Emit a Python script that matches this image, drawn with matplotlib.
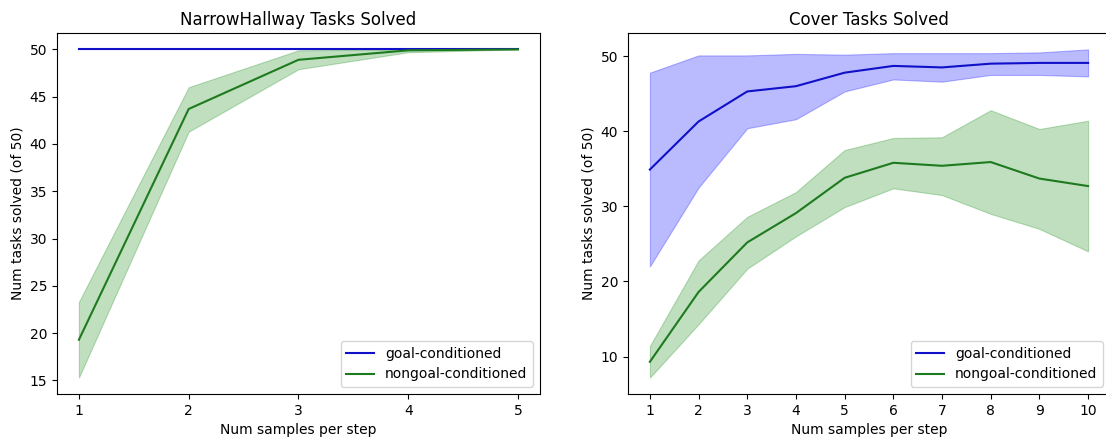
import matplotlib
matplotlib.use("Agg")
import matplotlib.pyplot as plt
import numpy as np

# NarrowHallway
x_nh = [1, 2, 3, 4, 5]
nh_goal_mean = [50, 50, 50, 50, 50]
nh_goal_low = [50, 50, 50, 50, 50]
nh_goal_high = [50, 50, 50, 50, 50]
nh_ng_mean = [19.3, 43.7, 48.9, 49.9, 50.0]
nh_ng_low = [15.3, 41.3, 47.9, 49.7, 50.0]
nh_ng_high = [23.3, 46.0, 49.9, 50.0, 50.0]

# Cover
x_cv = [1, 2, 3, 4, 5, 6, 7, 8, 9, 10]
cv_goal_mean = [34.9, 41.3, 45.3, 46.0, 47.8, 48.7, 48.5, 49.0, 49.1, 49.1]
cv_goal_low = [22.0, 32.5, 40.4, 41.6, 45.3, 46.9, 46.6, 47.5, 47.5, 47.3]
cv_goal_high = [47.8, 50.1, 50.1, 50.3, 50.2, 50.4, 50.4, 50.4, 50.5, 50.9]
cv_ng_mean = [9.3, 18.6, 25.2, 29.1, 33.8, 35.8, 35.4, 35.9, 33.7, 32.7]
cv_ng_low = [7.2, 14.3, 21.7, 26.0, 29.9, 32.4, 31.5, 29.0, 27.0, 24.0]
cv_ng_high = [11.4, 22.8, 28.6, 31.9, 37.5, 39.1, 39.2, 42.8, 40.3, 41.4]

titles = ["NarrowHallway Tasks Solved", "Cover Tasks Solved"]
labels = ["goal-conditioned", "nongoal-conditioned"]

fig = plt.figure(figsize=(11.06, 4.38), dpi=100)
ax1 = fig.add_axes([0.0515, 0.1005, 0.4367, 0.8242])
ax2 = fig.add_axes([0.5678, 0.1005, 0.4358, 0.8242])

blue = "#1010c8"
green = "#1e7a1e"

def draw(ax, x, gm, gl, gh, nm, nl, nh, title):
    ax.plot(x, gm, color=blue, lw=1.5, label=labels[0])
    ax.fill_between(x, gl, gh, color="blue", alpha=0.27, lw=0.8)
    ax.plot(x, nm, color=green, lw=1.5, label=labels[1])
    ax.fill_between(x, nl, nh, color="green", alpha=0.25, lw=0.8)
    ax.set_xticks(x)
    ax.set_title(title, fontsize=12)
    ax.set_xlabel("Num samples per step")
    ax.set_ylabel("Num tasks solved (of 50)")
    ax.legend(loc="lower right")

draw(ax1, x_nh, nh_goal_mean, nh_goal_low, nh_goal_high, nh_ng_mean, nh_ng_low, nh_ng_high, titles[0])
draw(ax2, x_cv, cv_goal_mean, cv_goal_low, cv_goal_high, cv_ng_mean, cv_ng_low, cv_ng_high, titles[1])

fig.savefig("out.png", dpi=100)
